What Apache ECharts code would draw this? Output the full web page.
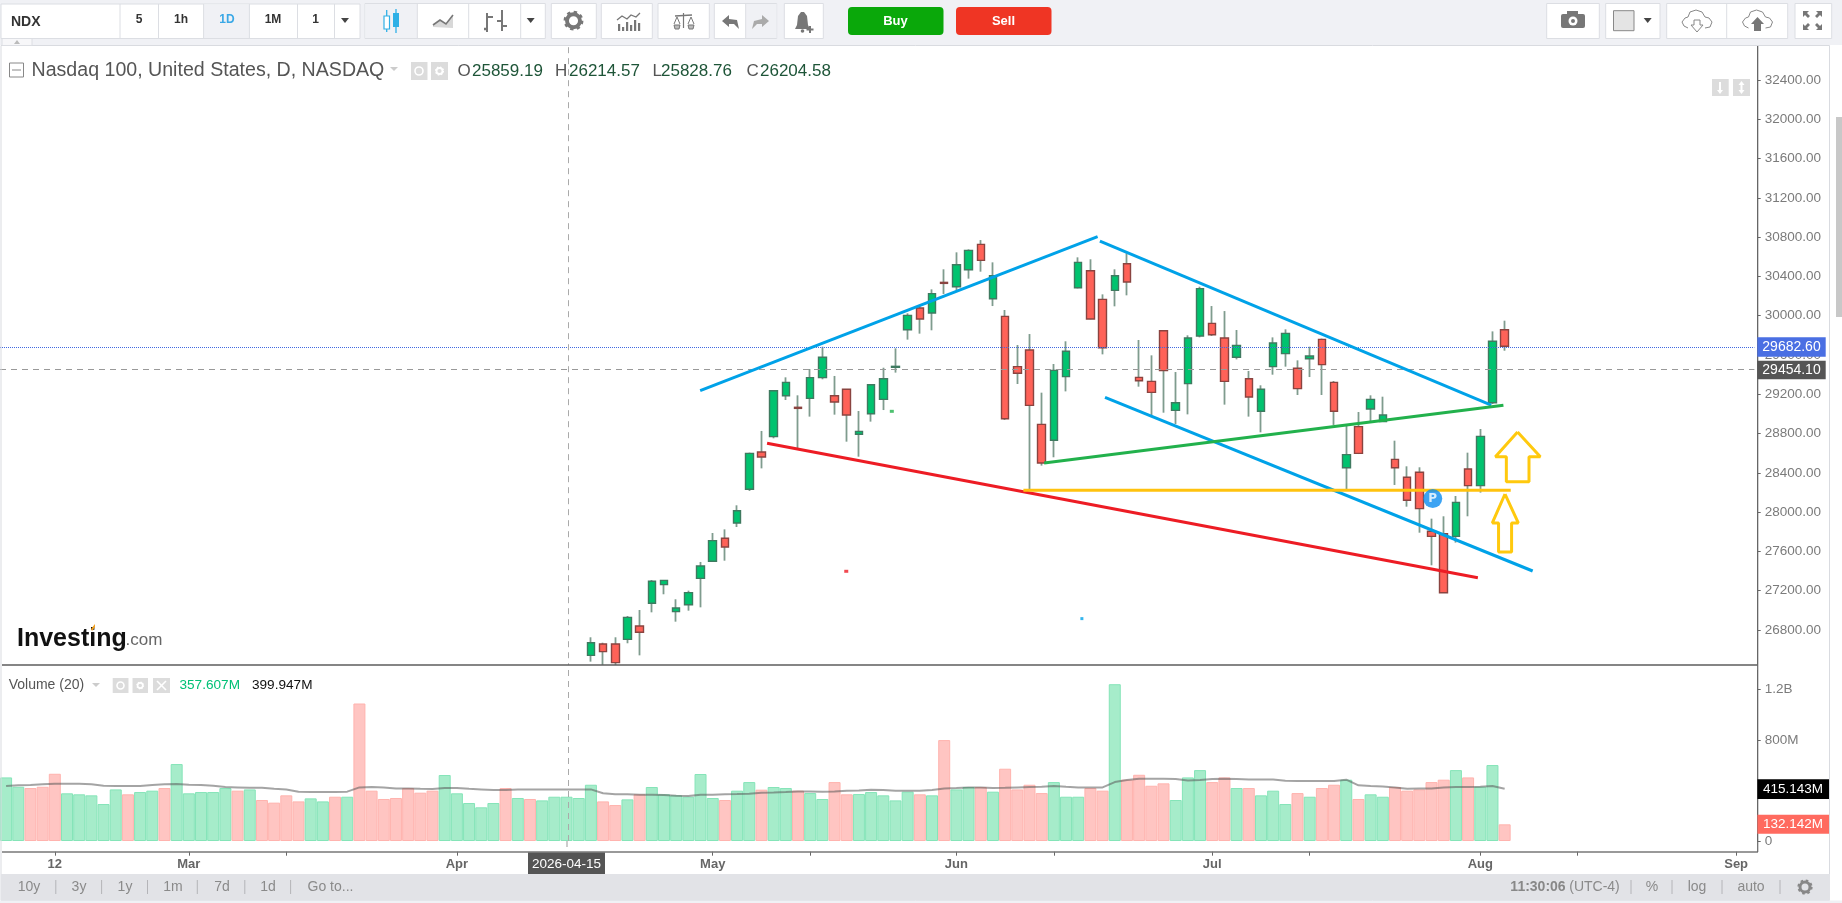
<!DOCTYPE html>
<html><head><meta charset="utf-8"><title>NDX</title>
<style>html,body{margin:0;padding:0;background:#fff;overflow:hidden}#c{position:absolute;left:0;top:0;width:1842px;height:903px}</style>
<script src="https://cdn.jsdelivr.net/npm/echarts@6/dist/echarts.min.js"></script>
</head><body><div id="c"></div>
<script>
// ---------- data ----------
const xTickIndex  = [4,15,23,37,58,66,78,86,99,107,121,129,142];
const xTickLabels = ['12','Mar','','Apr','May','','Jun','','Jul','','Aug','','Sep'];
const slotCount = 144;
const firstCandleSlot = 48;
const candleOpen  = [26541,26657,26657,26704,26840,27071,27261,26986,27057,27325,27499,27733,27889,28232,28612,28768,29185,29067,29158,29369,29185,29250,28792,29002,29148,29474,29857,30078,30027,30339,30295,30468,30726,30173,29993,29481,29650,28893,28731,29379,30285,30458,30166,30258,30529,29372,29331,29847,29036,29308,29793,29922,29773,29576,29358,29026,29481,29613,29464,29562,29759,29321,28452,28870,29050,28921,28537,28354,28405,27804,27780,27753,28439,28269,29114,29857];
const candleClose = [26670,26579,26467,26928,26776,27295,27305,27023,27180,27451,27709,27645,28014,28598,28561,29236,29321,29056,29369,29576,29121,28989,28822,29297,29358,29484,30003,29966,30224,30329,30519,30665,30563,30407,28951,29413,29087,28500,29443,29637,30543,29966,29674,30407,30343,29338,29219,29440,29114,29773,30275,29806,29331,29698,29172,29250,29722,29820,29257,29589,29501,29026,28585,28598,29148,28988,28452,28120,28035,27753,27179,28099,28269,28771,29739,29688];
const candleLow   = [26477,26409,26426,26664,26541,26979,27163,26884,26996,27030,27495,27505,27848,28215,28445,28751,29141,28649,28972,29352,28992,28717,28564,28921,29039,29420,29756,29817,29851,30221,30261,30377,30448,30098,28938,29304,28232,28473,28558,29229,30278,29963,29606,30095,30207,29277,28988,29012,28897,28995,29779,29793,29094,29555,28972,28812,29399,29481,29192,29375,29192,28887,28232,28591,28921,28921,28276,28055,27790,27458,27179,27689,27957,28198,29100,29643];
const candleHigh  = [26725,26670,26725,26942,27003,27308,27308,27112,27200,27492,27787,27824,28069,28605,28826,29243,29372,29189,29457,29684,29386,29250,29029,29301,29470,29667,30024,30098,30268,30472,30645,30675,30770,30543,30058,29701,29813,29216,29508,29739,30594,30574,30217,30472,30635,29752,29596,29847,29426,29800,30295,30098,30047,29854,29437,29291,29779,29861,29545,29684,29766,29335,28877,29019,29189,29175,28727,28466,28456,27933,27957,28164,28605,28846,29840,29949];
const volumeM = [504,430,420,430,533,378,370,362,293,409,370,388,399,420,610,378,388,388,420,399,409,325,304,362,314,338,314,351,351,1090,399,333,341,420,383,399,523,378,301,267,301,420,341,333,322,351,351,341,446,314,285,330,370,428,370,362,351,531,341,325,399,467,407,428,420,399,380,333,467,370,372,388,362,322,391,370,362,800,409,428,428,391,573,409,446,380,467,351,351,420,399,1243,486,525,438,457,325,504,562,467,504,420,420,362,399,293,380,351,420,446,486,333,370,351,428,399,409,467,486,562,504,430,602,132.142];
const volumeSide = 'GGRRRGGGGGRGGRGGGGGRGRRRRGGRGRRRRRRRGGGGGRGRGGGGGRRGRGGGGGGRGGRGGRGGRRGGGGGRGRGGRGRRRRGGGRRGRRRRGGGRRGRGGGRGRRGRGGRRRRRGRGGR';
const volumeMA = [436,441,444,449,454,454,454,449,438,436,436,436,444,449,452,446,444,438,428,425,422,422,414,409,391,388,388,388,391,425,428,425,417,417,414,412,420,420,414,409,404,404,409,409,409,409,409,409,409,378,370,370,367,367,364,359,356,367,367,370,372,375,383,385,388,393,393,391,393,399,401,407,404,399,399,399,404,417,420,425,425,420,422,425,428,430,436,430,425,425,425,467,483,494,494,494,491,480,483,491,494,491,488,488,488,478,475,475,475,475,486,441,436,433,425,414,417,417,425,428,428,430,436,414];
const lastPrice = 29682.60, crossPrice = 29454.10, crossSlot = 46.17;
const trendBlueUp    = [[56.97,29236],[89.59,30804]];
const trendBlueDownA = [[89.78,30760],[121.9,29090]];
const trendBlueDownB = [[90.2,29168],[125.3,27400]];
const trendGreen     = [[85.2,28500],[122.9,29087]];
const trendGold      = [[83.5,28221],[123.5,28222]];
const trendRed       = [[62.46,28700],[120.8,27332]];
const arrowUpper = [[124.06,28815],[125.93,28564],[125.0,28564],[125.0,28310],[123.14,28310],[123.14,28564],[122.24,28564],[124.06,28815]];
const arrowLower = [[123.03,28184],[124.12,27889],[123.57,27889],[123.57,27594],[122.5,27594],[122.5,27889],[121.99,27889],[123.03,28184]];
const dotGreen = [[72.7,29026]], dotRed = [[68.96,27397]], dotBlue = [[88.3,26915]];
const markerP = [[117.1,28137]];

// ---------- chrome helpers ----------
const FONT = '"Liberation Sans", Arial, sans-serif';
const g = [];
let Z = 100;
const R = (x,y,w,h,fill,stroke,lw,r) => g.push({type:'rect',silent:true,z:Z++,shape:{x,y,width:w,height:h,r:r||0},style:{fill:fill||'none',stroke:stroke||'none',lineWidth:lw||1}});
const L = (pts,stroke,lw,dash) => g.push({type:'polyline',silent:true,z:Z++,shape:{points:pts},style:{fill:'none',stroke,lineWidth:lw||1,lineDash:dash||null}});
const P = (pts,fill,stroke) => g.push({type:'polygon',silent:true,z:Z++,shape:{points:pts},style:{fill,stroke:stroke||'none'}});
const C = (cx,cy,r,fill,stroke,lw,dash) => g.push({type:'circle',silent:true,z:Z++,shape:{cx,cy,r},style:{fill:fill||'none',stroke:stroke||'none',lineWidth:lw||1,lineDash:dash||null}});
const T = (text,x,y,fill,size,weight,align) => g.push({type:'text',silent:true,z:Z++,style:{text,x,y,fill,font:(weight||'normal')+' '+size+'px '+FONT,align:align||'center',verticalAlign:'middle',textAlign:align||'center',textVerticalAlign:'middle'}});
const TRI = (x,y,c,s) => P([[x-(s||4),y-2],[x+(s||4),y-2],[x,y+3]],c||'#444');
const GEAR = (x,y,r,c) => {C(x,y,r,null,c,r*0.6); C(x,y,r*1.3,null,c,r*0.45,[r*0.5,r*0.52]);};
const CLOUD = (x,y,c) => {L([[x-9,y+7],[x-13,y+5],[x-15,y+1],[x-12,y-3],[x-9,y-4],[x-7,y-9],[x-1,y-11],[x+5,y-9],[x+8,y-4],[x+12,y-3],[x+15,y+1],[x+13,y+6],[x+8,y+7]],c,1);};

// page frame covers
R(0,0,1842,45,'#f0f1f5');
R(0,665,1758,5,'#fff');
R(1,45.5,1828.5,855,null,'#d9dbe0',1);
R(1,874,1829,26,'#e2e3e7');
R(0,900.5,1842,3,'#f0f1f5');
R(1836,117,6,200,'#c8c8c8');
L([[2,665],[1758,665]],'#5c5c5c',1.4);
L([[2,852],[1758,852]],'#777',1.4);
L([[1757.7,46],[1757.7,852]],'#666',1.2);
L([[567,841],[567,852]],'#999',1,[6,4]);

// toolbar boxes
const BOX='#dcdee3';
R(1,4,359,34.5,'#fff',BOX);
R(203.6,4.5,46,33.5,'#f0f1f5');
[120,158.5,203.6,249.4,297.5,334.5].forEach(x=>L([[x,4],[x,38]],BOX,1));
T('NDX',11,22,'#333',14,'bold','left');
T('5',139,20,'#333',12,'bold');T('1h',181,20,'#333',12,'bold');T('1D',227,20,'#3aa8e6',12,'bold');T('1M',273,20,'#333',12,'bold');T('1',315.5,20,'#333',12,'bold');
TRI(345,20,'#444');
R(365,3.5,180.3,35,'#fff',BOX);
R(365.5,4,52,34,'#f0f1f5');
[417.3,468.7,520.7].forEach(x=>L([[x,4],[x,38]],BOX,1));
L([[386.7,10],[386.7,32]],'#2fb0e6',1.3);R(384,16,5.5,13,'#fff','#2fb0e6',1.2);
L([[396,9],[396,33]],'#2fb0e6',1.3);R(393,13,6,14,'#2fb0e6');
P([[433,27],[433,25],[440,20],[446,24],[453,15],[453,28]],'#d8d8d8');
L([[433,25],[440,20],[446,24],[453,15]],'#777',1.6);
L([[487,13],[487,32]],'#777',2);L([[484,29],[487,29]],'#777',2.5);L([[487,17],[493,17]],'#777',2);
L([[502,10],[502,31]],'#777',2);L([[497,21],[502,21]],'#777',2);L([[502,26],[507,26]],'#777',2);
TRI(530.7,20,'#444');
R(551.3,3.5,45,35,'#fff',BOX);GEAR(573.5,20.7,6.5,'#777');
R(601.3,3.5,51,35,'#fff',BOX);
[[618,24],[622,27],[626,22],[630,25],[634,20],[638,23]].forEach(q=>R(q[0],q[1],2.2,31-q[1],'#777'));
L([[617,20],[622,16],[627,19],[631,15],[636,17],[640,13]],'#777',1.3);
R(658,3.5,51.3,35,'#fff',BOX);
L([[683.5,13],[683.5,28]],'#777',1.2);L([[675,16],[692,15]],'#777',1.4);
L([[677,17],[674,24]],'#777',1);L([[677,17],[680,24]],'#777',1);L([[691,17],[688,24]],'#777',1);L([[691,17],[694,24]],'#777',1);
P([[674,25],[680,25],[679,29],[675,29]],'#bbb','#777');P([[688,25],[694,25],[693,29],[689,29]],'#bbb','#777');
R(714.3,3.5,62.4,35,'#fff',BOX);R(746,4,30.5,34,'#f0f1f5');L([[745.7,4],[745.7,38]],BOX,1);
P([[722,21],[729,15],[729,19],[737,20],[739,29],[734,24],[729,24],[729,27]],'#777');
P([[769,21],[762,15],[762,19],[754,21],[752,29],[757,24],[762,24],[762,27]],'#aaa');
R(784.3,3.5,39,35,'#fff',BOX);
P([[795,29],[797,25],[798,16],[801,12],[804,12],[807,16],[808,25],[810,29]],'#777');
C(802.5,31,1.8,'#777');L([[810,26],[810,33]],'#777',2);L([[806.5,29.5],[813.5,29.5]],'#777',2);
R(848,7,95.5,28,'#0aa80a',null,1,4);T('Buy',895.5,21,'#fff',13,'bold');
R(956,7,95.5,28,'#ef3524',null,1,4);T('Sell',1003.5,21,'#fff',13,'bold');
R(1546.7,3.5,52.6,35,'#fff',BOX);
R(1561,14,24,14,'#777',null,1,2);R(1567,11,11,4,'#777');C(1573,21,4.5,'#fff');C(1573,21,2,'#777');
R(1605.7,3.5,54.3,35,'#fff',BOX);R(1613.5,10.7,20.5,20,'#e4e4e4','#888',1);TRI(1647.7,20,'#444');
R(1666.7,3.5,121,35,'#fff',BOX);L([[1726.7,4],[1726.7,38]],BOX,1);
CLOUD(1697,21,'#888');
L([[1694,20],[1694,25],[1691,25],[1697,32],[1703,25],[1700,25],[1700,20],[1694,20]],'#888',1);
CLOUD(1757.5,21,'#888');
P([[1757.5,17],[1764,24],[1761,24],[1761,31],[1754,31],[1754,24],[1751,24]],'#777');
R(1795,3.5,36.7,35,'#fff',BOX);
[[1803,11,1,1],[1822,11,-1,1],[1803,30,1,-1],[1822,30,-1,-1]].forEach(a=>P([[a[0],a[1]],[a[0]+6*a[2],a[1]],[a[0]+4*a[2],a[1]+2*a[3]],[a[0]+7*a[2],a[1]+5*a[3]],[a[0]+5*a[2],a[1]+7*a[3]],[a[0]+2*a[2],a[1]+4*a[3]],[a[0],a[1]+6*a[3]]],'#777'));
R(2,38.5,30,7,'#f7f7f9',BOX);P([[14,44],[20,44],[17,40]],'#bbb');

// title row
R(9.5,63,14,14,'#fff','#888',1);L([[12,70],[21,70]],'#888',1);
T('Nasdaq 100, United States, D, NASDAQ',31.5,71,'#555',19.6,'normal','left');
P([[390,67],[398,67],[394,71]],'#ccc');
R(411,62,16.5,18,'#dcdcdc');C(419,71,4,null,'#fff',1.6);
R(431,62,17,18,'#dcdcdc');GEAR(439.5,71,3,'#fff');
const OHLCc='#1e5538',OHLCl='#555';
T('O',457.5,71,OHLCl,17,'normal','left');T('25859.19',472,71,OHLCc,17,'normal','left');
T('H',555,71,OHLCl,17,'normal','left');T('26214.57',569,71,OHLCc,17,'normal','left');
T('L',652.5,71,OHLCl,17,'normal','left');T('25828.76',661,71,OHLCc,17,'normal','left');
T('C',746.5,71,OHLCl,17,'normal','left');T('26204.58',760,71,OHLCc,17,'normal','left');
R(1712,79,16.7,17,'#dcdcdc');L([[1720,82],[1720,92]],'#fff',2);P([[1717,90],[1723,90],[1720,94]],'#fff');
R(1733,79,17,17,'#dcdcdc');L([[1741.5,83],[1741.5,92]],'#fff',2);P([[1738.5,85],[1744.5,85],[1741.5,81]],'#fff');P([[1738.5,90],[1744.5,90],[1741.5,94]],'#fff');

// logo
T('Investing',17,639,'#111',25,'bold','left');
T('.com',125.5,640,'#666',17,'normal','left');
P([[91,629],[95,624],[95,627],[92,631]],'#f4a11d');

// volume legend
T('Volume (20)',8.7,685,'#555',14,'normal','left');
P([[92,683],[100,683],[96,687]],'#ccc');
R(112.7,678,15.8,15,'#dcdcdc');C(120.5,685.5,3.5,null,'#fff',1.6);
R(132.5,678,15.5,15,'#dcdcdc');GEAR(140.2,685.5,2.6,'#fff');
R(153,678,17,15,'#dcdcdc');L([[157,681],[166,690]],'#fff',1.6);L([[166,681],[157,690]],'#fff',1.6);
T('357.607M',179.5,685,'#00c176',13.6,'normal','left');
T('399.947M',252,685,'#111',13.6,'normal','left');

// axis value flags
R(1757.3,360.7,68.4,18.6,'#555');T('29454.10',1791.5,370.5,'#fff',14);
R(1757.3,337.3,68.4,19.4,'#4a6fe3');T('29682.60',1791.5,347.5,'#fff',14);
R(1757.4,779.3,71.6,19.7,'#000');T('415.143M',1793,789.7,'#fff',13.5);
R(1757.4,814.7,71.6,19,'#ff6a5f');T('132.142M',1793,824.7,'#fff',13.5);
R(528,852.5,77,21.5,'#555');T('2026-04-15',566.5,864,'#fff',13.5);

// bottom bar
const BB='#8a8a8a';
[['10y',29],['3y',79],['1y',125],['1m',173],['7d',222],['1d',268]].forEach(q=>T(q[0],q[1],887.5,BB,14));
T('Go to...',330.5,887.5,BB,14);
[55.8,101.6,147.5,197.3,244.8,290.6,1631,1672,1722,1780].forEach(x=>L([[x,880],[x,894]],'#b4b4b8',1));
T('11:30:06',1538,887.5,'#888',14,'bold');T('(UTC-4)',1594.5,887.5,BB,14);
T('%',1652,887.5,BB,14);T('log',1697,887.5,BB,14);T('auto',1751,887.5,BB,14);
GEAR(1805,887,5,'#888');

// ---------- chart ----------
const categories = Array.from({length:slotCount},(_,i)=>{const k=xTickIndex.indexOf(i);return k>=0?(xTickLabels[k]||' '):'d'+i;});
const isTick = i => xTickIndex.indexOf(i)>=0;
const pad = Array(firstCandleSlot).fill('-');
const wicks  = pad.concat(candleOpen.map((o,i)=>[o,candleClose[i],candleLow[i],candleHigh[i]]));
const bodies = pad.concat(candleOpen.map((o,i)=>[o,candleClose[i],Math.min(o,candleClose[i]),Math.max(o,candleClose[i])]));
const volumeData = volumeM.map((v,i)=>({value:v,itemStyle:volumeSide[i]==='G'
  ?{color:'#a6ecca',borderColor:'#85e4b8',borderWidth:1}
  :{color:'#ffc5c2',borderColor:'#ffb3ae',borderWidth:1}}));
const tl=(name,data,color,w)=>({name,type:'line',xAxisIndex:2,yAxisIndex:0,data,symbol:'none',silent:true,z:5,lineStyle:{color,width:w||3},animation:false});
const dot=(data,color,size)=>({type:'scatter',xAxisIndex:2,yAxisIndex:0,data,symbol:'rect',symbolSize:size,itemStyle:{color},z:5,silent:true});

const option = {
  animation:false,
  backgroundColor:'#fff',
  grid:[
    {left:-2.4,width:1756.8,top:40.7,height:628.5},
    {left:-2.4,width:1756.8,top:664.4,height:176.6}
  ],
  xAxis:[
    {type:'category',gridIndex:0,data:categories,show:false,boundaryGap:true,axisLine:{onZero:false}},
    {type:'category',gridIndex:1,data:categories,boundaryGap:true,offset:10.7,position:'bottom',
      axisLine:{show:false,onZero:false},
      axisTick:{show:true,alignWithLabel:true,interval:i=>isTick(i),length:4,lineStyle:{color:'#666'}},
      axisLabel:{interval:i=>isTick(i),color:'#666',fontFamily:FONT,fontWeight:'bold',fontSize:13,margin:6,hideOverlap:false},
      splitLine:{show:false}},
    {type:'value',gridIndex:0,min:-0.5,max:143.5,show:false,splitLine:{show:false},axisLine:{onZero:false}},
    {type:'value',gridIndex:1,min:-0.5,max:143.5,show:false,splitLine:{show:false},axisLine:{onZero:false}}
  ],
  yAxis:[
    {type:'value',gridIndex:0,position:'right',offset:3.3,min:26400,max:32800,interval:400,
      axisLine:{show:true,onZero:false,lineStyle:{color:'#666'}},axisTick:{show:true,length:3,lineStyle:{color:'#666'}},
      splitLine:{show:false},
      axisLabel:{color:'#7b7b7b',fontFamily:FONT,fontSize:13.5,margin:7,padding:[5,0,0,0],showMinLabel:false,showMaxLabel:false,formatter:v=>v.toFixed(2)}},
    {type:'value',gridIndex:1,position:'right',offset:3.3,min:0,max:1400,interval:400,
      axisLine:{show:true,onZero:false,lineStyle:{color:'#666'}},axisTick:{show:true,length:3,lineStyle:{color:'#666'}},
      splitLine:{show:false},
      axisLabel:{color:'#7b7b7b',fontFamily:FONT,fontSize:13.5,margin:7,padding:[7,0,0,0],showMaxLabel:false,
        formatter:v=>v>=1000?(v/1000).toFixed(1)+'B':(v===0?'0':v+'M')}}
  ],
  series:[
    {name:'wicks',type:'candlestick',xAxisIndex:0,yAxisIndex:0,data:wicks,barWidth:1,z:2,silent:true,
      itemStyle:{color:'#7f9c8e',color0:'#7f9c8e',borderColor:'#7f9c8e',borderColor0:'#7f9c8e',borderColorDoji:'#7f9c8e',borderWidth:1.8}},
    {name:'bodies',type:'candlestick',xAxisIndex:0,yAxisIndex:0,data:bodies,barWidth:8,z:3,silent:true,
      itemStyle:{color:'#00c36f',color0:'#ff6258',borderColor:'#3f7a60',borderColor0:'#8a4440',borderColorDoji:'#3f7a60',borderWidth:1.4}},
    tl('trendBlueUp',trendBlueUp,'#00a2e8'),
    tl('trendBlueDownA',trendBlueDownA,'#00a2e8'),
    tl('trendBlueDownB',trendBlueDownB,'#00a2e8'),
    tl('trendGreen',trendGreen,'#22b14c'),
    tl('trendRed',trendRed,'#ed1c24'),
    tl('trendGold',trendGold,'#ffc20e'),
    tl('arrowUpper',arrowUpper,'#ffc90e',3),
    tl('arrowLower',arrowLower,'#ffc90e',3),
    dot(dotGreen,'#22b14c',[4,3]),
    dot(dotRed,'#ed1c24',[4,3]),
    dot(dotBlue,'#00a2e8',[3,3]),
    {type:'scatter',xAxisIndex:2,yAxisIndex:0,data:markerP,symbol:'circle',symbolSize:19,z:6,silent:true,
      itemStyle:{color:'#0b8cf0'},
      label:{show:true,position:'inside',formatter:'P',color:'#fff',fontWeight:'bold',fontSize:12,fontFamily:'"DejaVu Sans"'}},
    {name:'priceLines',type:'line',xAxisIndex:2,yAxisIndex:0,data:[],z:1,silent:true,
      markLine:{silent:true,symbol:'none',animation:false,label:{show:false},data:[
        {yAxis:lastPrice,lineStyle:{color:'#4169e1',type:'dotted',width:1}},
        {yAxis:crossPrice,lineStyle:{color:'#999',type:[6,5],width:1}},
        {xAxis:crossSlot,lineStyle:{color:'#aaa',type:[6,5],width:1}}
      ]}},
    {name:'volume',type:'bar',xAxisIndex:1,yAxisIndex:1,data:volumeData,barWidth:12,z:2,silent:true},
    {name:'volumeMA',type:'line',xAxisIndex:1,yAxisIndex:1,data:volumeMA,symbol:'none',z:3,silent:true,
      lineStyle:{color:'rgba(90,90,90,0.55)',width:2}},
    {name:'crossVol',type:'line',xAxisIndex:3,yAxisIndex:1,data:[],z:1,silent:true,
      markLine:{silent:true,symbol:'none',animation:false,label:{show:false},data:[
        {xAxis:crossSlot,lineStyle:{color:'#aaa',type:[6,5],width:1}}]}}
  ],
  graphic:{elements:g}
};
echarts.init(document.getElementById('c'),null,{renderer:'canvas',width:1842,height:903}).setOption(option);
</script></body></html>
